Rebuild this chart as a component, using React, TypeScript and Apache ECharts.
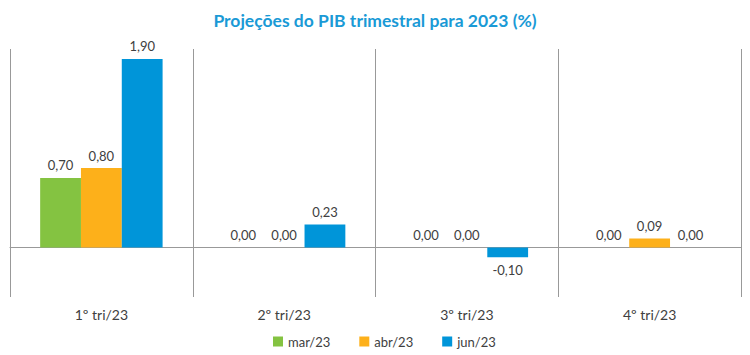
import React, { useEffect, useRef } from "react";
import * as echarts from "echarts";

const categories = ["1º tri/23", "2º tri/23", "3º tri/23", "4º tri/23"];
const seriesNames = ["mar/23", "abr/23", "jun/23"];
const marValues = [0.7, 0.0, 0.0, 0.0];
const abrValues = [0.8, 0.0, 0.0, 0.09];
const junValues = [1.9, 0.23, -0.1, 0.0];
const colors = ["#84c341", "#fdb01a", "#0095d9"];

const FONT = "Lato, 'Noto Sans', sans-serif";

const fmt = (v: number) => v.toFixed(2).replace(".", ",");

export default function App() {
  const ref = useRef<HTMLDivElement>(null);
  useEffect(() => {
    if (!ref.current) return;
    const chart = echarts.init(ref.current, undefined, { renderer: "svg" });
    const allValues = [marValues, abrValues, junValues];
    const series = allValues.map((vals, i) => ({
      name: seriesNames[i],
      type: "bar",
      xAxisIndex: 0,
      barGap: "0%",
      barCategoryGap: "33%",
      itemStyle: { color: colors[i] },
      label: {
        show: true,
        position: "top",
        distance: 6,
        color: "#404040",
        fontSize: 13,
        fontFamily: FONT,
        formatter: (p: any) => fmt(p.value),
      },
      data: vals.map((v) =>
        v < 0 ? { value: v, label: { position: "bottom" } } : { value: v }
      ),
    }));
    chart.setOption({
      animation: false,
      title: {
        text: "Projeções do PIB trimestral para 2023 (%)",
        left: "center",
        top: 6,
        textStyle: {
          color: "#1a9ad6",
          fontSize: 17.5,
          fontWeight: "bold",
          fontFamily: FONT,
        },
      },
      legend: {
        data: seriesNames,
        top: 330,
        left: 268,
        itemWidth: 10,
        itemHeight: 10,
        itemGap: 29,
        icon: "rect",
        textStyle: { color: "#404040", fontSize: 13, fontFamily: FONT },
      },
      grid: { left: 10, right: 9, top: 49, bottom: 58 },
      xAxis: [
        {
          type: "category",
          data: categories,
          position: "bottom",
          axisLine: { show: false, onZero: false },
          axisTick: { show: false },
          splitLine: { show: true, lineStyle: { color: "#999999", width: 1 } },
          axisLabel: {
            color: "#404040",
            fontSize: 14,
            fontFamily: FONT,
            margin: 10,
          },
        },
        {
          type: "category",
          data: categories,
          position: "bottom",
          axisLine: { show: true, onZero: true, lineStyle: { color: "#999999", width: 1 } },
          axisTick: { show: false },
          axisLabel: { show: false },
          splitLine: { show: false },
        },
      ],
      yAxis: {
        type: "value",
        min: -0.5,
        max: 2.0,
        show: false,
        splitLine: { show: false },
      },
      series,
    });
    return () => chart.dispose();
  }, []);
  return (
    <div
      ref={ref}
      style={{ position: "absolute", left: 0, top: 0, width: 750, height: 355 }}
    />
  );
}
